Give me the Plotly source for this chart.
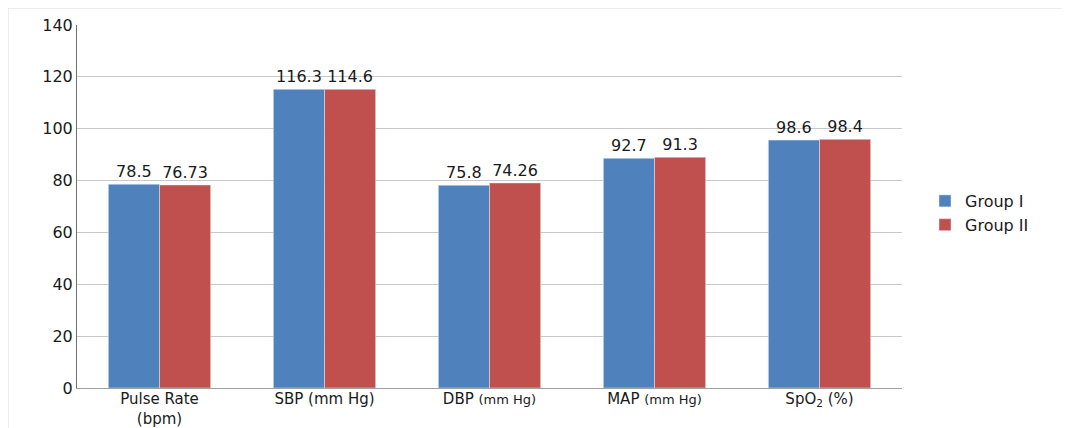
import plotly.graph_objects as go

categories = ["Pulse Rate<br>(bpm)", "SBP (mm Hg)",
              "DBP <span style='font-size:13px'>(mm Hg)</span>",
              "MAP <span style='font-size:13px'>(mm Hg)</span>",
              "SpO<sub>2</sub> (%)"]
group1_values = [78.6, 115.2, 78.2, 88.6, 95.6]
group2_values = [78.3, 115.2, 79.1, 89.0, 95.9]
group1_labels = ["78.5", "116.3", "75.8", "92.7", "98.6"]
group2_labels = ["76.73", "114.6", "74.26", "91.3", "98.4"]
y_ticks = [0, 20, 40, 60, 80, 100, 120, 140]

# page body has an 8px margin, so figure coords = page coords - 8
W, H = 1062, 420
L, R, T, B = 69, 168, 17, 40
pw, ph = W - L - R, H - T - B

lab_font = dict(family="DejaVu Sans", size=16, color="#1a1a1a")

fig = go.Figure()
fig.add_trace(go.Bar(name="Group I", x=categories, y=group1_values, text=group1_labels,
                     textposition="outside", marker_color="#4F81BD", cliponaxis=False,
                     textfont=lab_font))
fig.add_trace(go.Bar(name="Group II", x=categories, y=group2_values, text=group2_labels,
                     textposition="outside", marker_color="#C0504D", cliponaxis=False,
                     textfont=lab_font))

fig.update_layout(
    width=W, height=H,
    margin=dict(l=L, r=R, t=T, b=B, autoexpand=False),
    paper_bgcolor="white", plot_bgcolor="white",
    barmode="group", bargap=0.38, bargroupgap=0,
    showlegend=True,
    legend=dict(x=(917 - L) / pw, y=(380 - 176) / ph, xanchor="left", yanchor="top",
                font=dict(family="DejaVu Sans", size=16, color="#1a1a1a"),
                tracegroupgap=6, bgcolor="rgba(0,0,0,0)"),
    font=dict(family="DejaVu Sans", color="#1a1a1a"),
)
fig.update_yaxes(range=[0, 140], tickvals=y_ticks, showgrid=True, gridcolor="#c8c8c8",
                 gridwidth=1, showline=True, linecolor="#707070", linewidth=1,
                 ticks="", automargin=False,
                 tickfont=dict(family="DejaVu Sans", size=16, color="#1a1a1a"),
                 zeroline=False, fixedrange=True)
fig.update_xaxes(showline=True, linecolor="#a0a0a0", linewidth=1, ticks="", ticklen=0,
                 ticklabelstandoff=-3, automargin=False,
                 tickfont=dict(family="DejaVu Sans", size=15, color="#1a1a1a"))

fig.add_shape(type="rect", xref="paper", yref="paper",
              x0=(0 - L) / pw, x1=(1058 - L) / pw,
              y0=(380 - 425) / ph, y1=(380 - 0) / ph,
              line=dict(color="#dcdcdc", width=1), fillcolor="rgba(0,0,0,0)", layer="below")

fig.write_html("out.html")
